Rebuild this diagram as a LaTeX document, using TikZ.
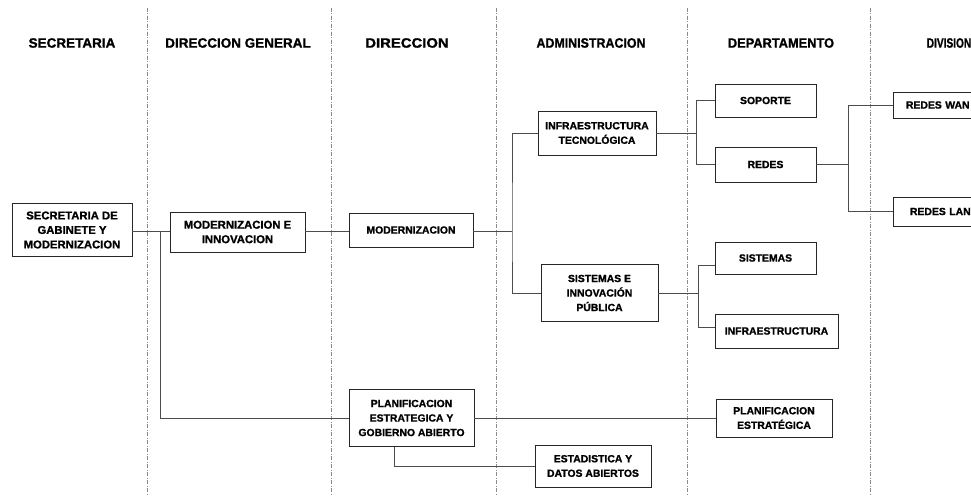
\documentclass[tikz,border=0pt]{standalone}
\usepackage{fontspec}
\setmainfont{Liberation Sans}[BoldFeatures={FakeBold=1.2}]
\begin{document}
\begin{tikzpicture}[x=1pt,y=-1pt,
  hdr/.style={font=\fontsize{13.5}{15}\selectfont\bfseries, inner sep=0pt},
  box/.style={draw=black!85, line width=0.9pt, fill=white, align=center, inner sep=1pt,
    font=\fontsize{10.4}{14.5}\selectfont\bfseries},
  bigbox/.style={box, font=\fontsize{11.3}{14.5}\selectfont\bfseries},
  conn/.style={draw=black!70, line width=0.8pt},
  sep/.style={draw=black!45, line width=0.6pt, dash pattern=on 4pt off 1.5pt on 1pt off 1.5pt}]
\useasboundingbox (0,0) rectangle (971,495);
\clip (0,0) rectangle (971,495);
% column separators
\foreach \xx/\nm in {147/s1,331/s2,496/s3,687/s4,870/s5}{
  \coordinate (\nm t) at (\xx,8);
  \coordinate (\nm b) at (\xx,495);
  \draw[sep] (\nm t) -- (\nm b);
}
% headers
\node[hdr] (h1) at (72,43) {SECRETARIA};
\node[hdr] (h2) at (238,43) {DIRECCION GENERAL};
\node[hdr] (h3) at (407,43) {\scalebox{1.1}[1]{DIRECCION}};
\node[hdr] (h4) at (591,43) {\scalebox{0.92}[1]{ADMINISTRACION}};
\node[hdr] (h5) at (781,43) {\scalebox{0.95}[1]{DEPARTAMENTO}};
\node[hdr] (h6) at (949,43) {\scalebox{0.75}[1]{DIVISION}};
% boxes
\node[bigbox, minimum width=120, minimum height=53] (sec) at (72,230) {SECRETARIA DE\\GABINETE Y\\MODERNIZACION};
\node[bigbox, minimum width=135, minimum height=40] (mgi) at (237.5,232) {MODERNIZACION E\\INNOVACION};
\node[box, minimum width=124, minimum height=34] (mod) at (411,230) {MODERNIZACION};
\node[box, minimum width=118, minimum height=44] (infra) at (597,133) {INFRAESTRUCTURA\\TECNOLÓGICA};
\node[box, minimum width=117, minimum height=57] (sip) at (599.5,293) {SISTEMAS E\\INNOVACIÓN\\PÚBLICA};
\node[box, minimum width=101, minimum height=33] (sop) at (765.5,100.5) {SOPORTE};
\node[box, minimum width=101, minimum height=35] (red) at (765.5,164.5) {REDES};
\node[box, minimum width=110, minimum height=26, text width=96, align=left] (wan) at (948,105) {\hspace*{6pt}REDES WAN};
\node[box, minimum width=110, minimum height=29, text width=96, align=left] (lan) at (948,211.5) {\hspace*{10pt}REDES LAN};
\node[box, minimum width=101, minimum height=32] (sist) at (765.5,258) {SISTEMAS};
\node[box, minimum width=123, minimum height=34] (infr) at (776.5,331) {INFRAESTRUCTURA};
\node[box, minimum width=125, minimum height=57] (plan) at (411.5,418) {PLANIFICACION\\ESTRATEGICA Y\\GOBIERNO ABIERTO};
\node[box, minimum width=116, minimum height=38] (pe) at (774,418) {PLANIFICACION\\ESTRATÉGICA};
\node[box, minimum width=116, minimum height=42] (est) at (593,466) {ESTADISTICA Y\\DATOS ABIERTOS};
% branch coordinates
\coordinate (j1) at (160,231);
\coordinate (j2) at (512,231);
\coordinate (j3) at (696,133);
\coordinate (j4) at (848,164.5);
\coordinate (j5) at (698,293);
% connectors
\draw[conn] (sec.east |- j1) -- (mgi.west |- j1);
\draw[conn] (j1) |- (plan.west);
\draw[conn] (mgi.east |- j1) -- (mod.west |- j1);
\draw[conn] (mod.east |- j2) -- (j2);
\draw[conn] (infra.west) -| (j2) |- (sip.west);
\draw[conn] (infra.east) -- (j3);
\draw[conn] (sop.west) -| (j3) |- (red.west);
\draw[conn] (red.east) -- (j4);
\draw[conn] (wan.west) -| (j4) |- (lan.west);
\draw[conn] (sip.east) -- (j5);
\draw[conn] ([yshift=-7pt]sist.west) -| (j5) |- ([yshift=4pt]infr.west);
\draw[conn] (plan.east) -- (pe.west);
\draw[conn] ([xshift=-17.5pt]plan.south) |- (est.west);
\end{tikzpicture}
\end{document}
